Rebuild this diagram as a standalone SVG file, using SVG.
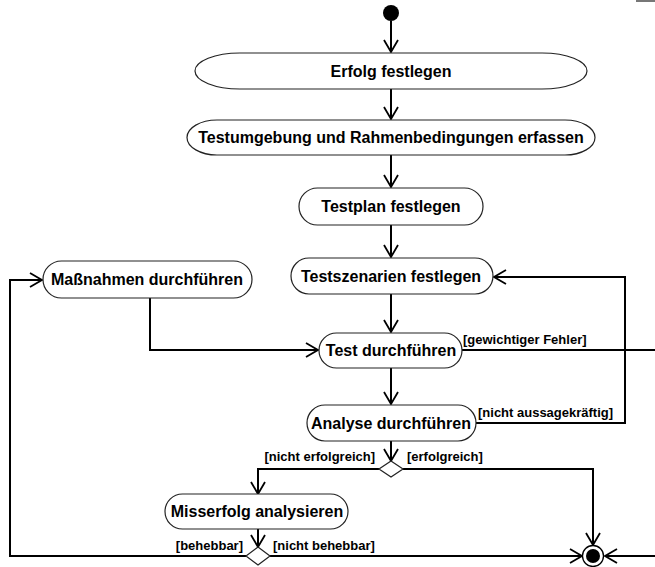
<svg xmlns="http://www.w3.org/2000/svg" width="655" height="567" viewBox="0 0 655 567">
<style>
.node{fill:#fff;stroke:#222;stroke-width:1.2}
.t{font-family:"Liberation Sans",Arial,sans-serif;font-weight:bold;font-size:16px;fill:#000;text-anchor:middle}
.l{font-family:"Liberation Sans",Arial,sans-serif;font-weight:bold;font-size:13px;fill:#000}
.c{fill:none;stroke:#000;stroke-width:2}
</style>
<defs>
<marker id="a" markerUnits="userSpaceOnUse" markerWidth="16" markerHeight="18" refX="12" refY="7" orient="auto" viewBox="-1 -1 16 18">
<path d="M0,0 L12,7 L0,14" fill="none" stroke="#000" stroke-width="1.8"/>
</marker>
</defs>
<rect x="636" y="0" width="19" height="2" fill="#777"/>
<g id="connectors">
<path class="c" d="M391,21 V52" marker-end="url(#a)"/>
<path class="c" d="M391,89 V119" marker-end="url(#a)"/>
<path class="c" d="M391,155 V187" marker-end="url(#a)"/>
<path class="c" d="M391,225 V257" marker-end="url(#a)"/>
<path class="c" d="M391,294 V332" marker-end="url(#a)"/>
<path class="c" d="M391,368 V404" marker-end="url(#a)"/>
<path class="c" d="M391,441 V461" marker-end="url(#a)"/>
<path class="c" d="M150,298 V350 H318" marker-end="url(#a)"/>
<path class="c" d="M462,350 H660 V556 H605" marker-end="url(#a)"/>
<path class="c" d="M476,423 H625 V277 H494" marker-end="url(#a)"/>
<path class="c" d="M379,469 H258 V494" marker-end="url(#a)"/>
<path class="c" d="M403,469 H593 V545" marker-end="url(#a)"/>
<path class="c" d="M258,529 V547" marker-end="url(#a)"/>
<path class="c" d="M246,556 H10 V280 H42" marker-end="url(#a)"/>
<path class="c" d="M270,556 H582" marker-end="url(#a)"/>
<text class="l" x="463" y="344">[gewichtiger Fehler]</text>
<text class="l" x="478" y="417">[nicht aussagekräftig]</text>
<text class="l" x="375" y="461" text-anchor="end">[nicht erfolgreich]</text>
<text class="l" x="407" y="461">[erfolgreich]</text>
<text class="l" x="243" y="550" text-anchor="end">[behebbar]</text>
<text class="l" x="273" y="550">[nicht behebbar]</text>
</g>
<g id="start"><circle cx="391" cy="13" r="8" fill="#000"/></g>
<g id="erfolg"><rect class="node" x="195" y="53" width="392" height="36" rx="45" ry="18"/><text class="t" x="391" y="77">Erfolg festlegen</text></g>
<g id="testumgebung"><rect class="node" x="187" y="120" width="408" height="35" rx="30" ry="17.5"/><text class="t" x="391" y="143">Testumgebung und Rahmenbedingungen erfassen</text></g>
<g id="testplan"><rect class="node" x="299" y="188" width="184" height="37" rx="18.5"/><text class="t" x="391" y="212">Testplan festlegen</text></g>
<g id="testszenarien"><rect class="node" x="291" y="258" width="202" height="36" rx="18"/><text class="t" x="391" y="282">Testszenarien festlegen</text></g>
<g id="massnahmen"><rect class="node" x="43" y="261" width="209" height="37" rx="18.5"/><text class="t" x="147" y="285">Maßnahmen durchführen</text></g>
<g id="test"><rect class="node" x="319" y="333" width="143" height="35" rx="17.5"/><text class="t" x="391" y="356">Test durchführen</text></g>
<g id="analyse"><rect class="node" x="307" y="405" width="169" height="36" rx="18"/><text class="t" x="391" y="429">Analyse durchführen</text></g>
<g id="entscheidung1"><polygon class="node" points="391,461 403,469 391,477 379,469"/></g>
<g id="misserfolg"><rect class="node" x="165" y="494" width="183" height="35" rx="17.5"/><text class="t" x="257" y="517">Misserfolg analysieren</text></g>
<g id="entscheidung2"><polygon class="node" points="258,547 270,556 258,565 246,556"/></g>
<g id="ende"><circle cx="593" cy="556" r="10.5" fill="#fff" stroke="#000" stroke-width="1.3"/><circle cx="593" cy="556" r="7" fill="#000"/></g>
</svg>
